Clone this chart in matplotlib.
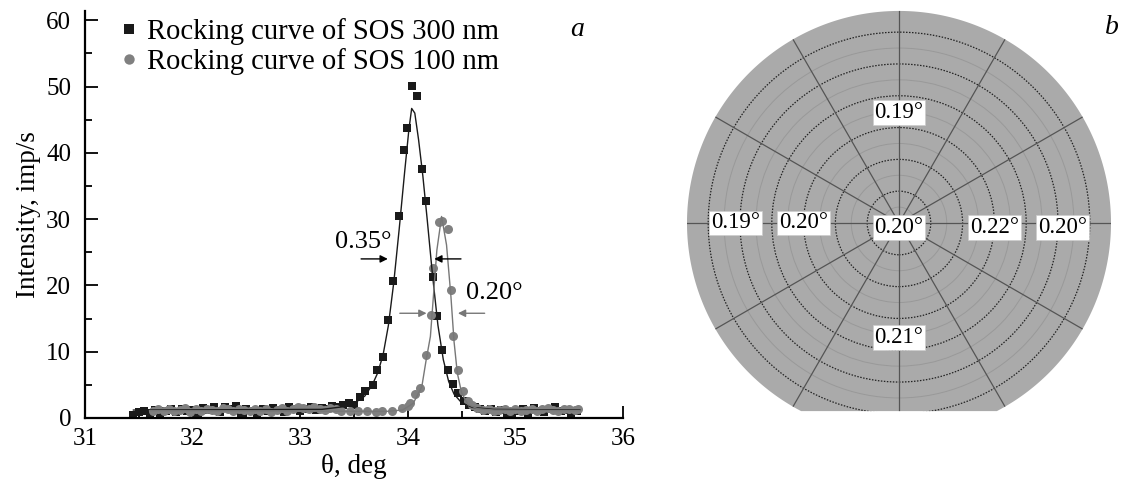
import numpy as np
import matplotlib
matplotlib.use('Agg')
import matplotlib.pyplot as plt
from matplotlib.patches import Polygon, Circle
from matplotlib.ticker import MultipleLocator

plt.rcParams['font.family'] = ['Liberation Serif', 'DejaVu Serif']
plt.rcParams['mathtext.fontset'] = 'stix'

# Rocking curve, SOS 300 nm (squares)
theta_300 = [31.45, 31.5, 31.55, 31.6, 31.65, 31.7, 31.75, 31.8, 31.85, 31.9, 31.95, 32.0,
             32.05, 32.1, 32.15, 32.2, 32.25, 32.3, 32.35, 32.4, 32.45, 32.5, 32.55, 32.6,
             32.65, 32.7, 32.75, 32.8, 32.85, 32.9, 32.95, 33.0, 33.05, 33.1, 33.15, 33.2,
             33.25, 33.3, 33.35, 33.4, 33.45, 33.5, 33.56, 33.6, 33.673, 33.717, 33.767,
             33.82, 33.865, 33.915, 33.965, 33.99, 34.036, 34.082, 34.13, 34.17, 34.23,
             34.27, 34.32, 34.37, 34.42, 34.47, 34.52, 34.57, 34.62, 34.67, 34.72, 34.77,
             34.82, 34.87, 34.92, 34.97, 35.02, 35.07, 35.12, 35.17, 35.22, 35.27, 35.32,
             35.37, 35.42, 35.47, 35.52, 35.57]
int_300 = [0.5, 0.9, 1.0, 0.8, 1.2, 0.6, 1.1, 1.3, 0.9, 1.4, 1.0, 1.2,
           0.7, 1.5, 1.2, 1.7, 0.9, 1.6, 1.3, 1.8, 0.8, 1.4, 1.1, 0.5,
           1.3, 1.0, 1.5, 1.2, 0.9, 1.6, 1.3, 1.1, 1.4, 1.7, 1.2, 1.5,
           1.3, 1.8, 1.6, 2.0, 2.2, 1.9, 3.1, 4.0, 5.0, 7.3, 9.25,
           14.8, 20.7, 30.4, 40.5, 43.7, 50.1, 48.6, 37.5, 32.8, 21.2,
           15.4, 10.3, 7.3, 5.2, 3.7, 2.6, 2.0, 1.6, 1.3, 1.1, 1.4,
           0.9, 1.2, 0.8, 0.3, 1.0, 1.3, 0.7, 1.5, 1.1, 0.9, 1.3,
           1.6, 1.0, 1.2, 0.8, 1.1]

# Rocking curve, SOS 100 nm (circles)
theta_100 = [31.63, 31.68, 31.73, 31.78, 31.83, 31.88, 31.93, 31.98, 32.03, 32.08, 32.13,
             32.18, 32.23, 32.28, 32.33, 32.38, 32.43, 32.48, 32.53, 32.58, 32.63, 32.68,
             32.73, 32.78, 32.83, 32.88, 32.93, 32.98, 33.03, 33.08, 33.13, 33.18, 33.23,
             33.28, 33.33, 33.38, 33.46, 33.54, 33.62, 33.7, 33.76, 33.856, 33.95, 34.0,
             34.02, 34.07, 34.11, 34.17, 34.22, 34.237, 34.293, 34.32, 34.37, 34.406,
             34.42, 34.47, 34.51, 34.56, 34.6, 34.64, 34.7, 34.75, 34.8, 34.85, 34.9,
             34.95, 35.0, 35.05, 35.1, 35.15, 35.2, 35.25, 35.3, 35.35, 35.4, 35.45,
             35.5, 35.55, 35.58]
int_100 = [1.0, 1.3, 1.1, 1.4, 1.0, 1.2, 1.5, 0.9, 1.3, 1.1, 1.4,
           1.2, 1.0, 1.5, 1.3, 1.1, 1.4, 1.2, 1.0, 1.3, 1.1, 1.4,
           0.9, 1.2, 1.5, 1.1, 1.3, 1.6, 1.5, 1.3, 1.6, 1.4, 1.2,
           1.5, 1.3, 1.1, 1.05, 1.1, 1.0, 0.9, 1.0, 1.0, 1.5, 1.8,
           2.3, 3.6, 4.6, 9.5, 15.5, 22.6, 29.5, 29.7, 28.5, 19.3,
           12.3, 7.3, 4.0, 2.5, 2.0, 1.5, 1.2, 1.3, 1.0, 1.2, 1.4,
           1.1, 1.3, 1.0, 1.2, 1.4, 1.1, 1.3, 1.5, 1.2, 1.0, 1.3,
           1.4, 1.2, 1.3]

# fitted curves
fit_theta_300 = [31.45, 33.2, 33.4, 33.5, 33.6, 33.67, 33.72, 33.77, 33.82, 33.87, 33.92,
                 33.97, 34.01, 34.036, 34.065, 34.1, 34.14, 34.18, 34.23, 34.28, 34.33,
                 34.38, 34.43, 34.5, 34.6, 34.8, 35.6]
fit_int_300 = [1.2, 1.3, 1.7, 2.2, 3.3, 5.0, 6.8, 9.5, 14.0, 20.5, 28.5,
               37.0, 43.5, 46.7, 46.0, 42.0, 36.5, 30.0, 21.5, 14.0, 8.8,
               5.5, 3.6, 2.3, 1.6, 1.3, 1.2]
fit_theta_100 = [31.6, 33.8, 33.95, 34.05, 34.13, 34.17, 34.21, 34.24, 34.27, 34.314,
                 34.36, 34.4, 34.43, 34.46, 34.5, 34.56, 34.65, 34.8, 35.6]
fit_int_100 = [1.1, 1.0, 1.2, 2.2, 4.7, 8.7, 12.3, 18.8, 25.3, 30.4,
               26.1, 18.5, 11.5, 6.8, 3.8, 2.0, 1.4, 1.2, 1.1]

# wafer map (FWHM values, deg) and label positions in mm
fwhm_labels = ['0.19°', '0.19°', '0.20°', '0.20°', '0.22°', '0.20°', '0.21°']
label_x = [0, -77, -45, 0, 45, 77, 0]
label_y = [52, 0, 0, -2, -2, -2, -54]
ring_r = [15, 30, 45, 60, 75, 90]
wafer_r = 100
flat_y = -89

fig = plt.figure(figsize=(11.27, 4.82), dpi=100)

# ---- panel a ----
ax = fig.add_axes([85/1127, 64/482, 538/1127, 407/482])
ax.plot(fit_theta_300, fit_int_300, color='#1a1a1a', lw=1.0, zorder=3)
ax.plot(fit_theta_100, fit_int_100, color='#777777', lw=1.0, zorder=3)
ax.plot(theta_300, int_300, 's', color='#1a1a1a', ms=6, mew=0,
        label='Rocking curve of SOS 300 nm', zorder=2)
ax.plot(theta_100, int_100, 'o', color='#808080', ms=6.5, mew=0,
        label='Rocking curve of SOS 100 nm', zorder=2.5)

ax.set_xlim(31, 36)
ax.set_ylim(0, 61.4)
ax.xaxis.set_major_locator(MultipleLocator(1))
ax.xaxis.set_minor_locator(MultipleLocator(0.5))
ax.yaxis.set_major_locator(MultipleLocator(10))
ax.yaxis.set_minor_locator(MultipleLocator(5))
ax.tick_params(which='major', direction='in', length=9, width=1.3, labelsize=18)
ax.tick_params(axis='y', which='major', pad=10)
ax.tick_params(axis='x', which='major', pad=7)
ax.tick_params(which='minor', direction='in', length=5, width=1.3)
for s in ['top', 'right']:
    ax.spines[s].set_visible(False)
for s in ['left', 'bottom']:
    ax.spines[s].set_linewidth(1.6)
ax.set_xlabel('θ, deg', fontsize=19.5, labelpad=3)
ax.set_ylabel('Intensity, imp/s', fontsize=19.5, labelpad=4)

leg = ax.legend(loc='upper left', bbox_to_anchor=(0.044, 1.011), frameon=False,
                fontsize=20.6, handlelength=0.6, handletextpad=0.35, labelspacing=0.1,
                borderaxespad=0, markerscale=1.15)

# FWHM arrows
arr_k = dict(arrowstyle='-|>', color='black', lw=1.0, mutation_scale=11)
ax.annotate('', xy=(33.84, 24), xytext=(33.54, 24), arrowprops=arr_k)
ax.annotate('', xy=(34.22, 24), xytext=(34.52, 24), arrowprops=arr_k)
arr_g = dict(arrowstyle='-|>', color='#777777', lw=1.0, mutation_scale=11)
ax.annotate('', xy=(34.2, 15.8), xytext=(33.9, 15.8), arrowprops=arr_g)
ax.annotate('', xy=(34.44, 15.8), xytext=(34.74, 15.8), arrowprops=arr_g)
ax.text(33.32, 26.5, '0.35°', fontsize=19, va='center', ha='left')
ax.text(34.54, 18.9, '0.20°', fontsize=19, va='center', ha='left')

fig.text(577/1127, 1 - 30/482, 'a', fontsize=20, style='italic', ha='center', va='center')

# ---- panel b ----
bx = fig.add_axes([680/1127, 41/482, 438/1127, 436/482])
bx.set_xlim(-103.3, 103.3)
bx.set_ylim(-102.8, 102.8)
bx.axis('off')

t = np.linspace(0, 2 * np.pi, 721)
px = wafer_r * np.cos(t)
py = wafer_r * np.sin(t)
keep = py >= flat_y
wafer = Polygon(np.column_stack([px[keep], py[keep]]), closed=True,
                facecolor='#aaaaaa', edgecolor='none', zorder=1)
bx.add_patch(wafer)

# light rings between the dashed ones
for r in ring_r:
    c = Circle((0, 0), r - 7.5, fill=False, ec='#999999', lw=0.7, zorder=2)
    bx.add_patch(c)
    c.set_clip_path(wafer)
for r in ring_r:
    c = Circle((0, 0), r, fill=False, ec='#222222', lw=0.9, ls=(0, (1.2, 1.2)), zorder=3)
    bx.add_patch(c)
    c.set_clip_path(wafer)
for a in range(0, 360, 30):
    ang = np.deg2rad(a)
    ln, = bx.plot([0, 110 * np.cos(ang)], [0, 110 * np.sin(ang)], color='#555555',
                  lw=0.9, zorder=4)
    ln.set_clip_path(wafer)

for lab, x, y in zip(fwhm_labels, label_x, label_y):
    bx.text(x, y, lab, fontsize=16.5, ha='center', va='center', zorder=5,
            bbox=dict(boxstyle='square,pad=0.08', fc='white', ec='#cccccc', lw=0.5))

fig.text(1112/1127, 1 - 28/482, 'b', fontsize=20, style='italic', ha='center', va='center')

fig.savefig('out.png', dpi=100)
